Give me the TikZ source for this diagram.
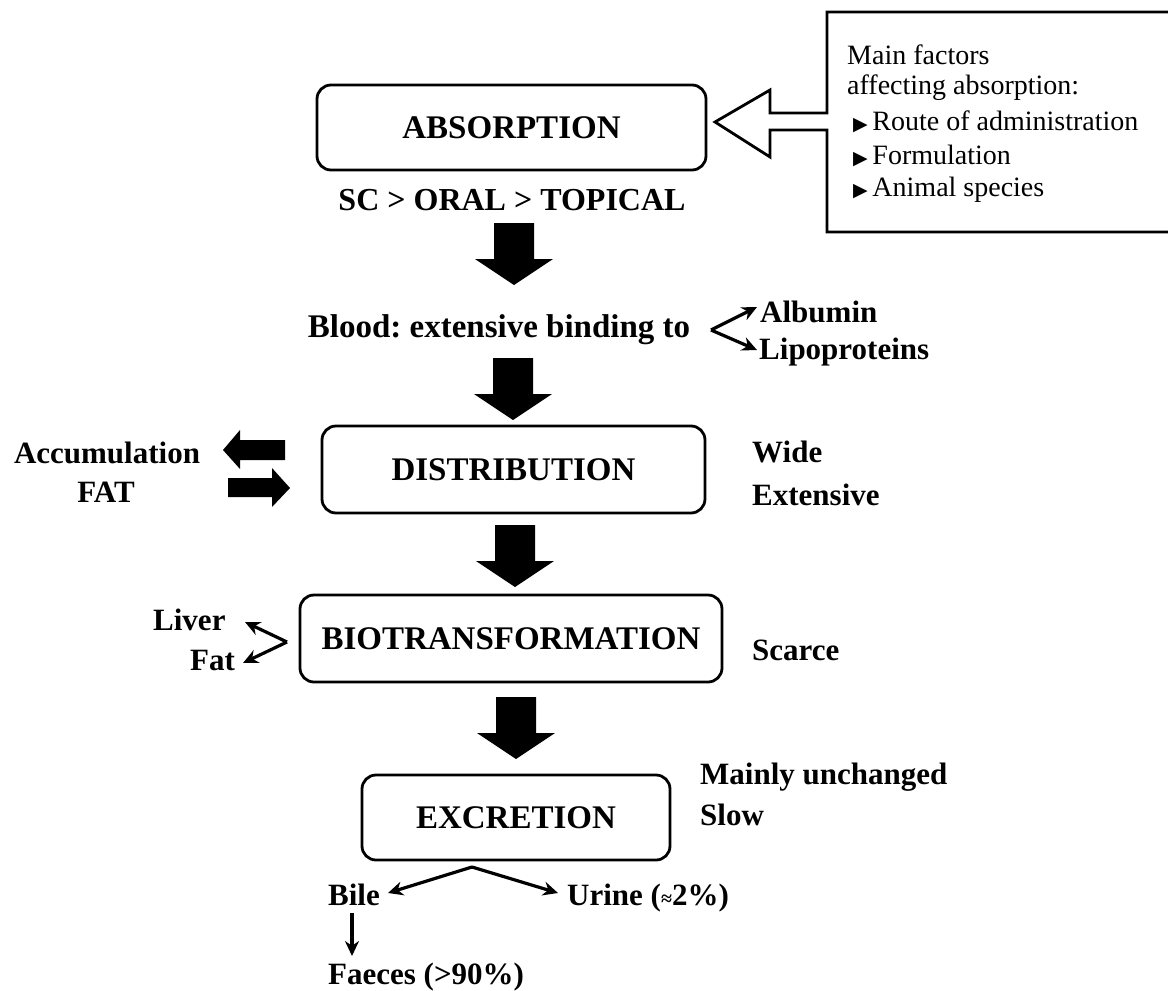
\documentclass[tikz,border=0pt]{standalone}
\usepackage{fontspec}
\setmainfont{Liberation Serif}
\newfontfamily\djv{DejaVu Sans}
\usetikzlibrary{arrows.meta}
\newcommand{\mytri}{{\djv\fontsize{19}{19}\selectfont ▶}}
\frenchspacing
\begin{document}
\begin{tikzpicture}[x=1pt,y=-1pt,
  box/.style={draw,line width=2.8pt,rounded corners=14pt,inner sep=0pt,font=\fontsize{33}{38}\selectfont\bfseries},
  lbl/.style={inner sep=0pt,font=\fontsize{31}{36}\selectfont\bfseries},
  fact/.style={inner sep=0pt,anchor=west,font=\fontsize{28}{32}\selectfont},
  thinarr/.style={line width=3.2pt,-{Stealth[length=15pt,width=14pt]}},
  blockdown/.pic={\fill (-20,0) -- (20,0) -- (20,36) -- (39,36) -- (0,62) -- (-39,36) -- (-20,36) -- cycle;},
]
\useasboundingbox (0,0) rectangle (1168,991);

% factors box with hollow arrow
\draw[line width=2.8pt] (1172,12) -- (827,12) -- (827,113) -- (770,113) -- (770,90) -- (715,122)
  -- (770,157) -- (770,130) -- (827,130) -- (827,232) -- (1172,232);
\node[fact] (f1) at (847,55) {Main factors};
\node[fact] (f2) at (847,88) {affecting absorption:};
\node[fact] (f3) at (853,122) {\mytri\,Route of administration};
\node[fact] (f4) at (853,156) {\mytri\,Formulation};
\node[fact] (f5) at (853,190) {\mytri\,Animal species};

% absorption
\node[box,minimum width=389pt,minimum height=85pt] (abs) at (511.5,127.5) {ABSORPTION};
\node[lbl,font=\fontsize{32}{36}\selectfont\bfseries] (route) at (512,200) {SC > ORAL > TOPICAL};
\pic at (514,223) {blockdown};

% blood
\node[lbl,font=\fontsize{33}{36}\selectfont\bfseries] (blood) at (499,330) {Blood: extensive binding to};
\node[lbl,anchor=west] (alb) at (760,312) {Albumin};
\node[lbl,anchor=west] (lip) at (759,352) {Lipoproteins};
\coordinate (bv) at (711,330);
\coordinate (albt) at (757,307);
\coordinate (lipt) at (757,350);
\draw[thinarr] (bv) -- (albt);
\draw[thinarr] (bv) -- (lipt);
\pic at (513,358) {blockdown};

% distribution
\node[box,minimum width=383pt,minimum height=87pt] (dist) at (513.5,469.5) {DISTRIBUTION};
\node[lbl] (accum) at (107,453) {Accumulation};
\node[lbl] (fat) at (106,492) {FAT};
\fill (285,440) -- (240,440) -- (240,430) -- (223,450) -- (240,469) -- (240,460) -- (285,460) -- cycle;
\fill (228,478) -- (272,478) -- (272,468) -- (290,488) -- (272,507) -- (272,497) -- (228,497) -- cycle;
\node[lbl,anchor=west] (wide) at (752,452) {Wide};
\node[lbl,anchor=west] (ext) at (752,495) {Extensive};
\pic at (515,525) {blockdown};

% biotransformation
\node[box,minimum width=422pt,minimum height=87pt] (bio) at (511,638.5) {BIOTRANSFORMATION};
\node[lbl,anchor=west] (liver) at (153,620) {Liver};
\node[lbl,anchor=west] (fatb) at (190,660) {Fat};
\coordinate (lv) at (287,642);
\coordinate (livt) at (245,622);
\coordinate (fatt) at (243,663);
\draw[thinarr] (lv) -- (livt);
\draw[thinarr] (lv) -- (fatt);
\node[lbl,anchor=west] (scarce) at (752,650) {Scarce};
\pic at (516,697) {blockdown};

% excretion
\node[box,minimum width=308pt,minimum height=85pt] (exc) at (516,817.5) {EXCRETION};
\node[lbl,anchor=west] (mu) at (700,777) {Mainly unchanged};
\node[lbl,anchor=west] (slow) at (700,815) {Slow};
\node[lbl,anchor=base west] (bile) at (328,905) {Bile};
\node[lbl,anchor=base west] (urine) at (567,905) {Urine ({\fontsize{20}{20}\selectfont ≈}2\%)};
\node[lbl,anchor=base west] (faeces) at (328,984) {Faeces (>90\%)};
\coordinate (ev) at (472,867);
\coordinate (bilet) at (388,893);
\coordinate (urinet) at (558,893);
\draw[thinarr] (ev) -- (bilet);
\draw[thinarr] (ev) -- (urinet);
\coordinate (bd1) at (352,913);
\coordinate (bd2) at (352,956);
\draw[thinarr] (bd1) -- (bd2);
\end{tikzpicture}
\end{document}
